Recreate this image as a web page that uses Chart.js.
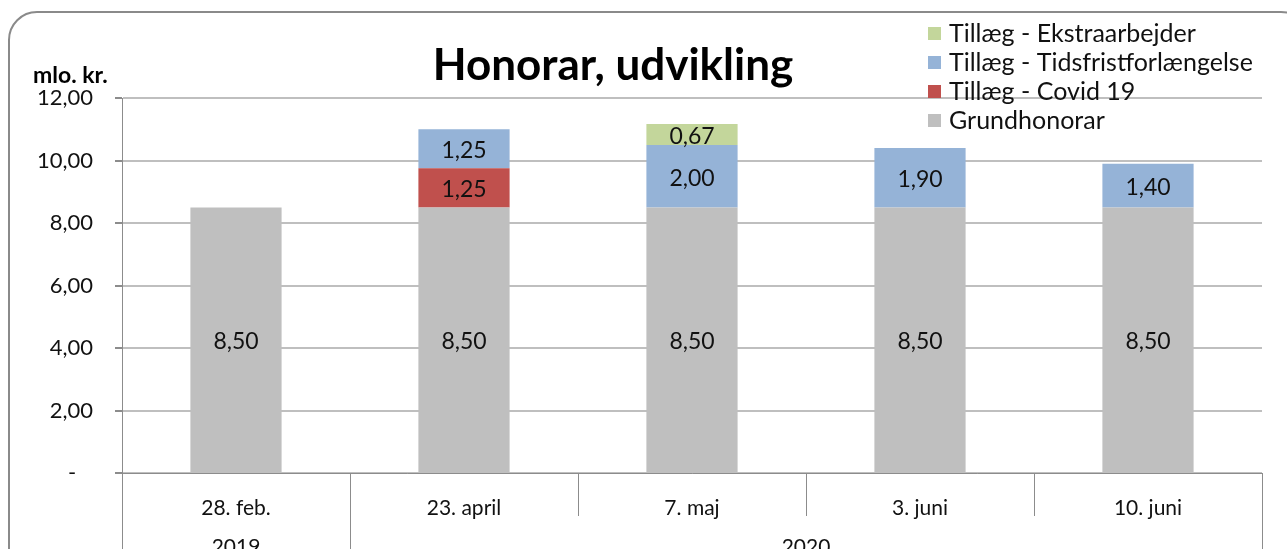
<!DOCTYPE html>
<html>
<head>
<meta charset="utf-8">
<script src="https://cdn.jsdelivr.net/npm/chart.js@4/dist/chart.umd.min.js"></script>
<style>
  html, body { margin: 0; padding: 0; background: #fff; }
  #wrap { width: 1287px; height: 549px; position: relative; }
</style>
</head>
<body>
<div id="wrap"><canvas id="honorarChart" width="1287" height="549"></canvas></div>
<script>
// Chart data
var categories = ['28. feb.', '23. april', '7. maj', '3. juni', '10. juni'];
var years = ['2019', '2020'];
var yearSpan = [1, 4]; // number of categories per year
var grundhonorar = [8.50, 8.50, 8.50, 8.50, 8.50];
var covid19 = [0, 1.25, 0, 0, 0];
var tidsfrist = [0, 1.25, 2.00, 1.90, 1.40];
var ekstraarbejder = [0, 0, 0.67, 0, 0];

var FONT = 'Lato, "Liberation Sans", sans-serif';

function fmt(v) {
    return v.toFixed(2).replace('.', ',');
}

// Value labels centered in each segment
var valueLabels = {
    id: 'valueLabels',
    afterDatasetsDraw: function(chart) {
        var ctx = chart.ctx;
        ctx.save();
        ctx.font = '23px ' + FONT;
        ctx.fillStyle = '#111';
        ctx.textAlign = 'center';
        ctx.textBaseline = 'middle';
        chart.data.datasets.forEach(function(ds, i) {
            var meta = chart.getDatasetMeta(i);
            meta.data.forEach(function(bar, j) {
                var v = ds.data[j];
                if (!v) return;
                ctx.fillText(fmt(v), bar.x, (bar.y + bar.base) / 2 + 2);
            });
        });
        ctx.restore();
    }
};

// Frame, title, unit, legend, multi-level axis
var decorations = {
    id: 'decorations',
    afterDraw: function(chart) {
        var ctx = chart.ctx;
        var area = chart.chartArea;
        var x = chart.scales.x;
        ctx.save();

        // outer rounded frame
        ctx.strokeStyle = '#8a8a8a';
        ctx.lineWidth = 2;
        ctx.beginPath();
        ctx.roundRect(9, 12, 1300, 620, 28);
        ctx.stroke();

        // title
        ctx.fillStyle = '#000';
        ctx.font = 'bold 44px ' + FONT;
        ctx.textAlign = 'center';
        ctx.textBaseline = 'middle';
        ctx.fillText('Honorar, udvikling', 613, 66);

        // unit
        ctx.font = 'bold 23px ' + FONT;
        ctx.textAlign = 'left';
        ctx.fillText('mlo. kr.', 33, 76);

        // legend (reverse order)
        ctx.font = '25px ' + FONT;
        var ly = 33;
        for (var i = chart.data.datasets.length - 1; i >= 0; i--) {
            var ds = chart.data.datasets[i];
            ctx.fillStyle = ds.backgroundColor;
            ctx.fillRect(928, ly - 6, 13, 13);
            ctx.fillStyle = '#111';
            ctx.fillText(ds.label, 949, ly + 1);
            ly += 29;
        }

        // category separators
        ctx.strokeStyle = '#8c8c8c';
        ctx.lineWidth = 1;
        var half = (x.getPixelForValue(1) - x.getPixelForValue(0)) / 2;
        var idx = 0;
        var yearEdges = [0];
        yearSpan.forEach(function(n) { idx += n; yearEdges.push(idx); });
        for (var k = 0; k <= categories.length; k++) {
            var px = Math.round(x.getPixelForValue(k) - half) + 0.5;
            var full = yearEdges.indexOf(k) >= 0;
            ctx.beginPath();
            ctx.moveTo(px, area.bottom);
            ctx.lineTo(px, full ? 549 : 516);
            ctx.stroke();
        }

        // year labels
        ctx.font = '21px ' + FONT;
        ctx.fillStyle = '#111';
        ctx.textAlign = 'center';
        for (var y = 0; y < years.length; y++) {
            var a = x.getPixelForValue(yearEdges[y]) - half;
            var b = x.getPixelForValue(yearEdges[y + 1]) - half;
            ctx.fillText(years[y], (a + b) / 2, 547);
        }
        ctx.restore();
    }
};

var ctx = document.getElementById('honorarChart').getContext('2d');
new Chart(ctx, {
    type: 'bar',
    data: {
        labels: categories,
        datasets: [
            { label: 'Grundhonorar', data: grundhonorar, backgroundColor: '#bfbfbf' },
            { label: 'Tillæg - Covid 19', data: covid19, backgroundColor: '#c0504d' },
            { label: 'Tillæg - Tidsfristforlængelse', data: tidsfrist, backgroundColor: '#95b3d7' },
            { label: 'Tillæg - Ekstraarbejder', data: ekstraarbejder, backgroundColor: '#c3d69b' }
        ]
    },
    options: {
        responsive: false,
        animation: false,
        layout: { padding: { top: 98, right: 25, left: 0, bottom: 0 } },
        datasets: { bar: { categoryPercentage: 1, barPercentage: 0.4 } },
        plugins: {
            legend: { display: false },
            tooltip: { enabled: false }
        },
        scales: {
            x: {
                stacked: true,
                afterFit: function(scale) { scale.height = 76; },
                grid: { display: false },
                border: { display: true, color: '#8c8c8c', width: 1 },
                ticks: {
                    padding: 15,
                    color: '#111',
                    font: { family: FONT, size: 21 }
                }
            },
            y: {
                stacked: true,
                min: 0,
                max: 12,
                afterFit: function(scale) { scale.width = 122; },
                grid: { color: '#bfbfbf', lineWidth: 2, tickLength: 7, tickColor: '#8c8c8c' },
                border: { display: true, color: '#8c8c8c', width: 1 },
                ticks: {
                    stepSize: 2,
                    padding: 22,
                    color: '#111',
                    font: { family: FONT, size: 22 },
                    callback: function(v) { return v === 0 ? '-   ' : fmt(v); }
                }
            }
        }
    },
    plugins: [valueLabels, decorations]
});
</script>
</body>
</html>
